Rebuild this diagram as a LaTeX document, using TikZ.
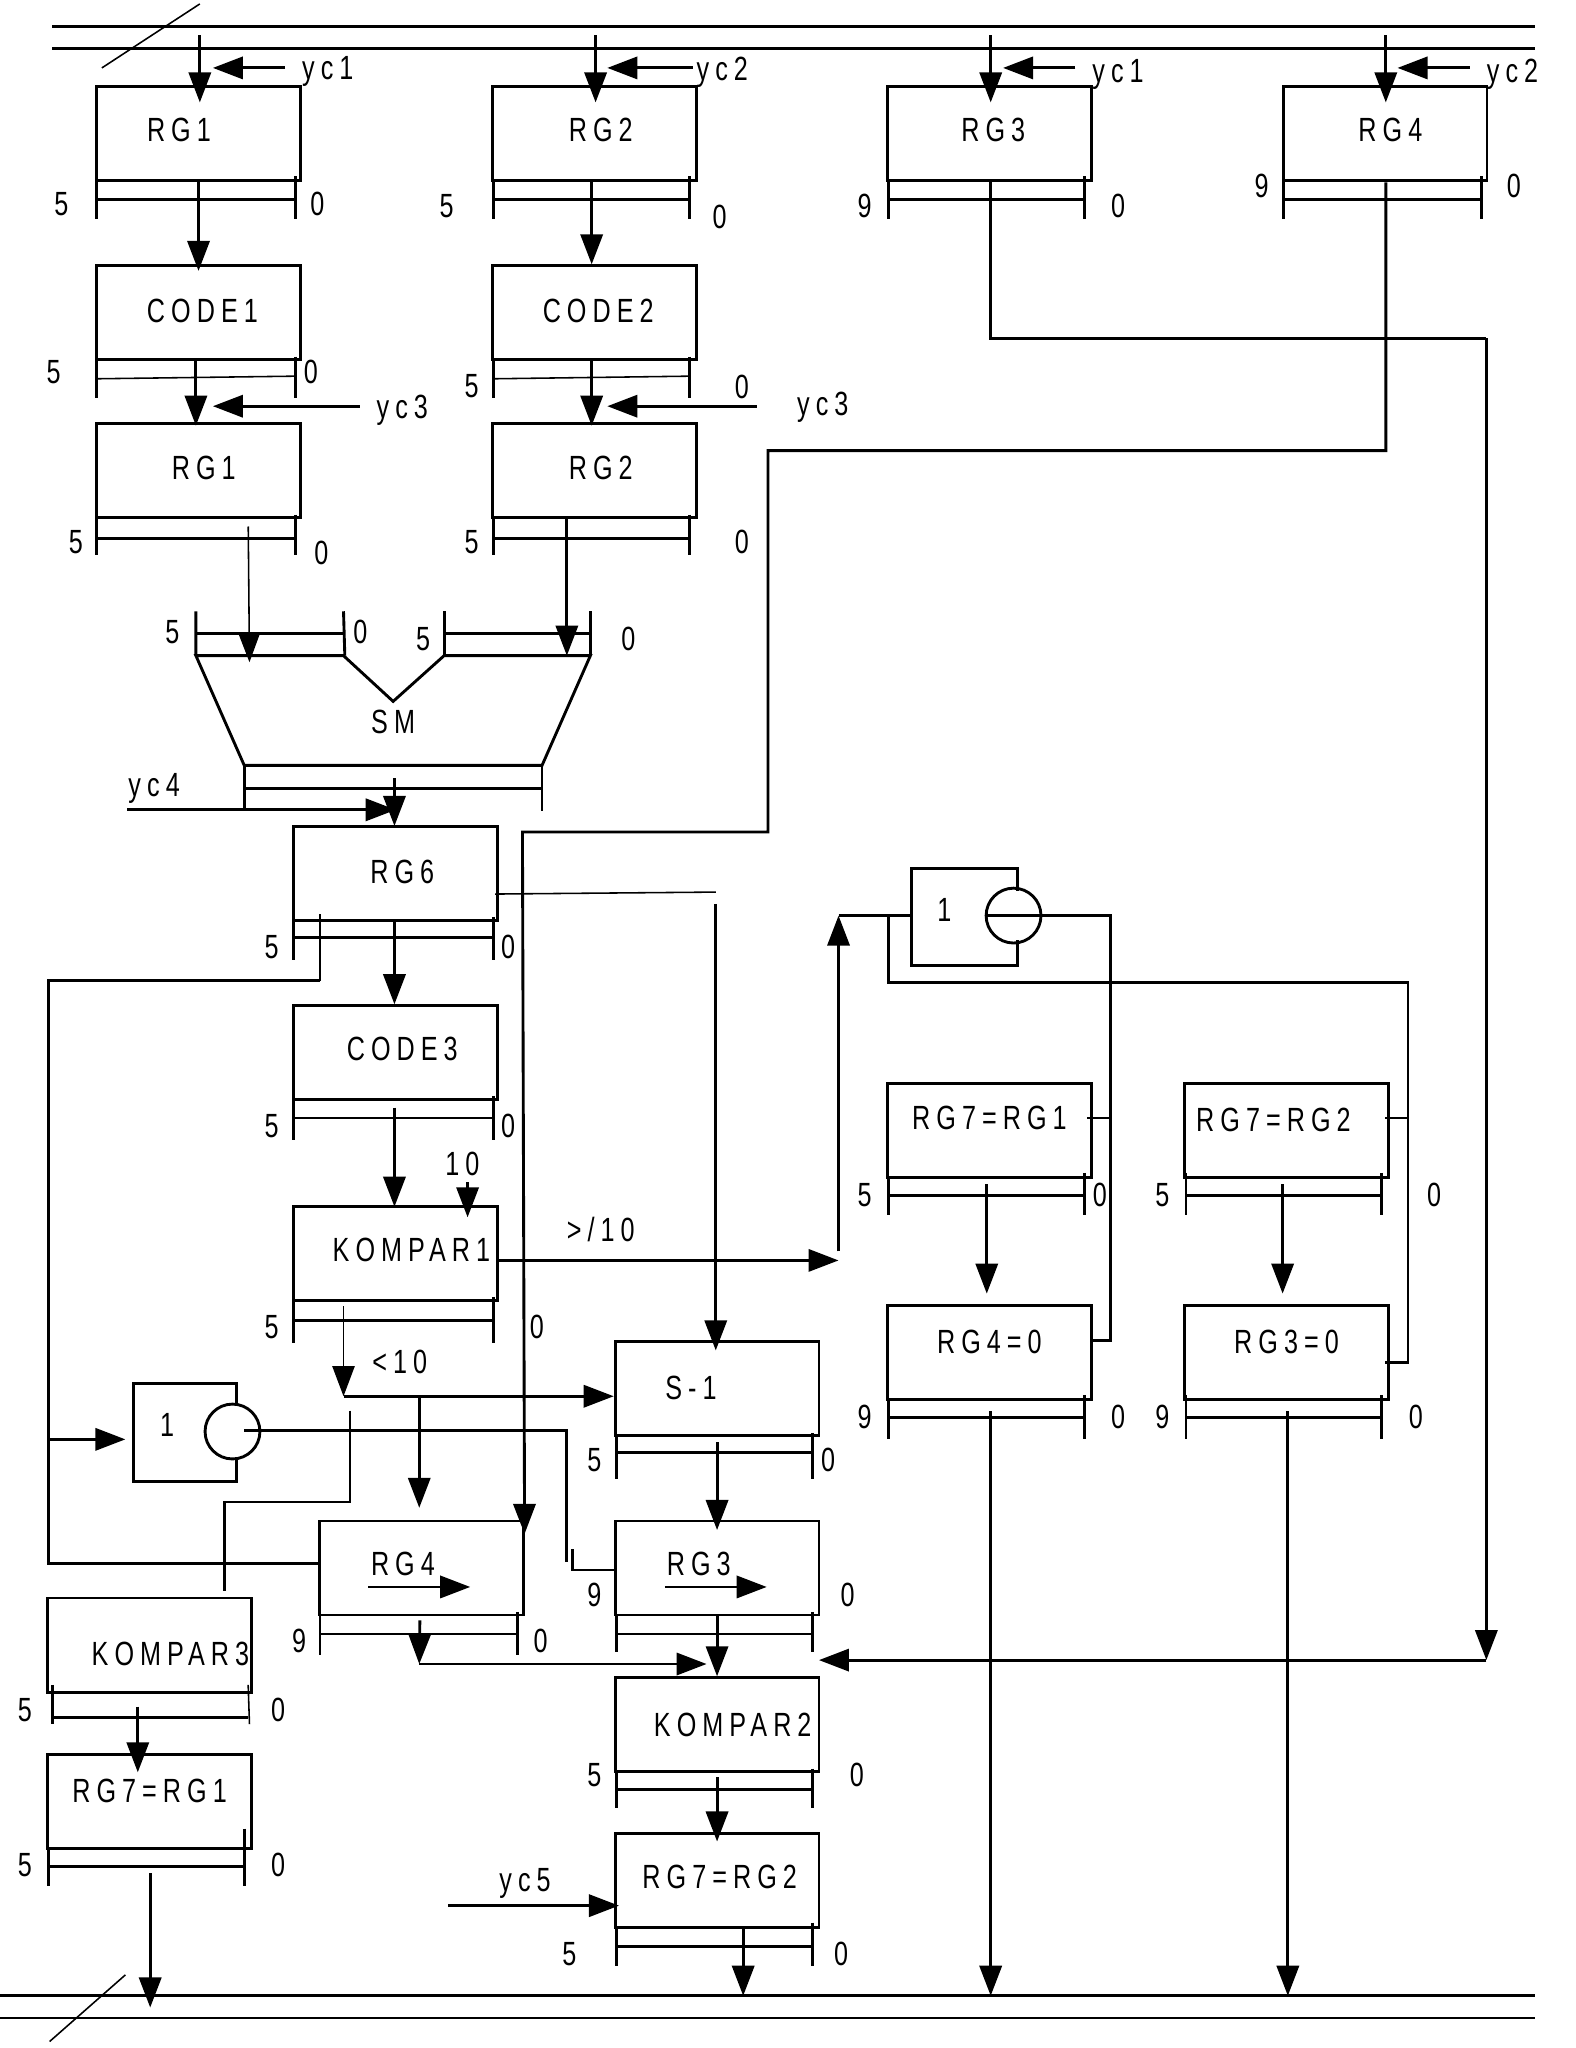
\documentclass[tikz,border=0pt]{standalone}
\usepackage{fontspec}
\setmainfont[FakeStretch=0.75,LetterSpace=18]{Liberation Sans}
\usetikzlibrary{arrows.meta}

\begin{document}
\begin{tikzpicture}[
  x=0.5pt,
  y=-0.5pt,
  font=\fontsize{12.85}{15}\selectfont,
  line width=1.1pt,
  box/.style={draw, inner sep=0pt, minimum width=78pt, minimum height=36pt, text height=9.2pt, text depth=3.5pt},
  tx/.style={execute at begin node={\kern #1pt}},
  ty/.style={text depth=#1pt},
  plain/.style={inner sep=0pt, xshift=0.5pt},
  gatecirc/.style={draw, circle, inner sep=0pt, minimum size=21pt},
  rail/.style={line width=1.1pt},
  wire/.style={line width=1.1pt},
  thinwire/.style={line width=0.6pt},
  arrow/.style={-{Triangle[length=11.5pt, width=8.5pt]}, line width=1.1pt},
  thinarrow/.style={-{Triangle[length=11.5pt, width=8.5pt]}, line width=0.6pt}
]
\useasboundingbox (0,0) rectangle (1206,1568);

\coordinate (busTL) at (40,20);
\coordinate (busTR) at (1175,20);
\coordinate (busTL2) at (40,37);
\coordinate (busTR2) at (1175,37);
\coordinate (busBL) at (0,1528);
\coordinate (busBR) at (1175,1528);
\coordinate (busBL2) at (0,1545);
\coordinate (busBR2) at (1175,1545);
\draw[wire] (busTL) -- (busTR);
\draw[wire] (busTL2) -- (busTR2);
\draw[wire] (busBL) -- (busBR);
\draw[wire] (busBL2) -- (busBR2);
\draw[thinwire] (78,52) -- (153,3);
\draw[thinwire] (38,1563) -- (96,1512);

\node[box, tx=-15] (rgA1) at (152,102.5) {RG1};
\node[box, tx=5] (rgA2) at (455,102.5) {RG2};
\node[box, tx=3] (rgA3) at (757.5,102.5) {RG3};
\node[box, tx=4] (rgA4) at (1060.5,102.5) {RG4};
\node[box, tx=3, ty=1.5] (code1) at (152,239.5) {CODE1};
\node[box, tx=3, ty=1.5] (code2) at (455,239.5) {CODE2};
\node[box, tx=4, ty=2] (rgB1) at (152,360) {RG1};
\node[box, tx=5, ty=2] (rgB2) at (455,360) {RG2};
\node[box, tx=5, ty=1.5] (rg6) at (303,668.5) {RG6};
\node[box, tx=5, ty=3] (code3) at (303,806) {CODE3};
\node[box, tx=12, ty=3] (kompar1) at (303,960) {KOMPAR1};
\node[box, ty=10] (rg7a) at (757.5,865.5) {RG7=RG1};
\node[box, tx=-10, ty=8.5] (rg7b) at (985,865.5) {RG7=RG2};
\node[box, ty=8.5] (rg4z) at (757.5,1035.5) {RG4=0};
\node[box, ty=8.5] (rg3z) at (985,1035.5) {RG3=0};
\node[box, tx=-20, ty=1] (sub1) at (549,1063) {S-1};
\node[box, tx=-14] (rgC3) at (549,1200.5) {RG3};
\node[box, tx=-14] (rgC4) at (322.5,1200.5) {RG4};
\node[box, tx=12, ty=0] (kompar2) at (549,1320.5) {KOMPAR2};
\node[box, tx=2, ty=3] (rg7c) at (549,1440) {RG7=RG2};
\node[box, tx=16, text height=15.7pt, ty=0] (kompar3) at (114.5,1259.5) {KOMPAR3};
\node[box, ty=8] (rg7d) at (114.5,1379) {RG7=RG1};

\draw[rail] (74,138) -- (74,168) (74,153) -- (226,153) (226,135) -- (226,168);
\draw[rail] (378,138) -- (378,168) (378,153) -- (528,153) (528,135) -- (528,168);
\draw[rail] (680,138) -- (680,168) (680,153) -- (830,153) (830,135) -- (830,168);
\draw[rail] (983,138) -- (983,168) (983,153) -- (1134,153) (1134,135) -- (1134,168);
\draw[rail] (74,276) -- (74,305) (226,273) -- (226,305);
\draw[thinwire] (74,290) -- (226,288);
\draw[rail] (378,276) -- (378,305) (528,273) -- (528,305);
\draw[thinwire] (378,290) -- (528,288);
\draw[rail] (74,397) -- (74,425) (74,412) -- (226,412) (226,394) -- (226,425);
\draw[rail] (378,397) -- (378,425) (378,412) -- (528,412) (528,394) -- (528,425);
\draw[rail] (225,705) -- (225,735) (225,718) -- (378,718) (378,702) -- (378,735);
\draw[rail] (225,842) -- (225,873) (225,856) -- (378,856) (378,839) -- (378,873);
\draw[rail] (225,996) -- (225,1028) (225,1011) -- (378,1011) (378,993) -- (378,1028);
\draw[rail] (680,901) -- (680,930) (680,915) -- (830,915) (830,898) -- (830,930);
\draw[rail] (908,898) -- (908,930) (908,915) -- (1058,915) (1058,898) -- (1058,930);
\draw[rail] (680,1071) -- (680,1102) (680,1085) -- (830,1085) (830,1068) -- (830,1102);
\draw[rail] (908,1068) -- (908,1102) (908,1085) -- (1058,1085) (1058,1068) -- (1058,1102);
\draw[rail] (472,1100) -- (472,1132) (472,1112) -- (622,1112) (622,1097) -- (622,1132);
\draw[rail] (472,1237) -- (472,1265) (472,1251) -- (622,1251) (622,1234) -- (622,1265);
\draw[thinwire] (245,1234) -- (245,1267);
\draw[rail] (245,1251) -- (396,1251) (396,1234) -- (396,1267);
\draw[rail] (472,1357) -- (472,1384) (472,1370) -- (622,1370) (622,1354) -- (622,1384);
\draw[rail] (472,1475) -- (472,1505) (472,1490) -- (622,1490) (622,1472) -- (622,1505);
\draw[rail] (40,1290) -- (40,1320) (40,1315) -- (190,1315);
\draw[thinwire] (190,1290) -- (191,1320);
\draw[rail] (37,1415) -- (37,1444) (37,1429) -- (187,1429) (187,1400) -- (187,1444);

\node[plain] (sm) at (300,553) {SM};
\coordinate (smout) at (302,596);
\coordinate (smin1) at (191,507);
\coordinate (smin2) at (434,502);
\draw[wire] (150,502) -- (263,502) -- (301,537) -- (340,502) -- (452,502) -- (415,586) -- (187,586) -- cycle;
\draw[rail] (150,468) -- (150,502) (150,485) -- (263,485) (263,468) -- (264,502);
\draw[rail] (340,468) -- (340,502) (340,485) -- (452,485) (452,468) -- (452,502);
\draw[rail] (187,586) -- (187,621) (187,604) -- (415,604) (415,586) -- (415,621);

\node[plain] (or1) at (722,697) {1};
\node[gatecirc] (or1c) at (776,701) {};
\coordinate (or1in) at (698,701);
\draw[wire] (779,682) -- (779,665) -- (698,665) -- (698,739) -- (779,739) -- (779,720);
\node[plain] (or2) at (127,1091) {1};
\node[gatecirc] (or2c) at (178,1096) {};
\draw[wire] (181,1075) -- (181,1059) -- (102,1059) -- (102,1134) -- (181,1134) -- (181,1117);

\node[plain] (lab5a) at (46,156) {5};
\node[plain] (lab0a) at (242,156) {0};
\node[plain] (lab5b) at (341,158) {5};
\node[plain] (lab0b) at (550,166) {0};
\node[plain] (lab9c) at (661,158) {9};
\node[plain] (lab0c) at (855,158) {0};
\node[plain] (lab9d) at (965,142) {9};
\node[plain] (lab0d) at (1158,142) {0};
\node[plain] (lab5e) at (40,285) {5};
\node[plain] (lab0e) at (237,285) {0};
\node[plain] (lab5f) at (360,296) {5};
\node[plain] (lab0f) at (567,296) {0};
\node[plain] (lab5g) at (57,415) {5};
\node[plain] (lab0g) at (245,423) {0};
\node[plain] (lab5h) at (360,415) {5};
\node[plain] (lab0h) at (567,415) {0};
\node[plain] (lab5i) at (131,484) {5};
\node[plain] (lab0i) at (275,484) {0};
\node[plain] (lab5j) at (323,489) {5};
\node[plain] (lab0j) at (480,489) {0};
\node[plain] (lab5k) at (207,725) {5};
\node[plain] (lab0k) at (388,725) {0};
\node[plain] (lab5l) at (207,862) {5};
\node[plain] (lab0l) at (388,862) {0};
\node[plain] (lab5m) at (207,1016) {5};
\node[plain] (lab0m) at (410,1016) {0};
\node[plain] (lab5n) at (661,915) {5};
\node[plain] (lab0n) at (841,915) {0};
\node[plain] (lab5o) at (889,915) {5};
\node[plain] (lab0o) at (1097,915) {0};
\node[plain] (lab9p) at (661,1085) {9};
\node[plain] (lab0p) at (855,1085) {0};
\node[plain] (lab9q) at (889,1085) {9};
\node[plain] (lab0q) at (1083,1085) {0};
\node[plain] (lab5r) at (454,1118) {5};
\node[plain] (lab0r) at (633,1118) {0};
\node[plain] (lab9s) at (454,1221) {9};
\node[plain] (lab0s) at (648,1221) {0};
\node[plain] (lab9t) at (228,1256) {9};
\node[plain] (lab0t) at (413,1256) {0};
\node[plain] (lab5u) at (454,1359) {5};
\node[plain] (lab0u) at (655,1359) {0};
\node[plain] (lab5v) at (435,1496) {5};
\node[plain] (lab0v) at (643,1496) {0};
\node[plain] (lab5w) at (18,1309) {5};
\node[plain] (lab0w) at (212,1309) {0};
\node[plain] (lab5x) at (18,1428) {5};
\node[plain] (lab0x) at (212,1428) {0};

\node[plain] (yc1a) at (250,55) {yc1};
\node[plain] (yc2a) at (552,55) {yc2};
\node[plain] (yc1b) at (855,57) {yc1};
\node[plain] (yc2b) at (1157,57) {yc2};
\node[plain] (yc3a) at (307,314) {yc3};
\node[plain] (yc3b) at (629,312) {yc3};
\node[plain] (yc4) at (117,604) {yc4};
\node[plain] (yc5) at (401,1442) {yc5};
\node[plain] (ten) at (353,891) {10};
\node[plain] (more) at (459,941) {>/10};
\node[plain] (less) at (305,1043) {<10};

\coordinate (tap1) at (153,27);
\coordinate (tap2) at (456,27);
\coordinate (tap3) at (758.5,27);
\coordinate (tap4) at (1061,27);
\draw[arrow, shorten >=-6.5pt] (tap1) -- (tap1 |- rgA1.north);
\draw[arrow, shorten >=-6.5pt] (tap2) -- (tap2 |- rgA2.north);
\draw[arrow, shorten >=-6.5pt] (tap3) -- (tap3 |- rgA3.north);
\draw[arrow, shorten >=-6.5pt] (tap4) -- (tap4 |- rgA4.north);
\coordinate (ya1) at (163,52);
\coordinate (ya2) at (465,52);
\coordinate (ya3) at (768,52);
\coordinate (ya4) at (1070,52);
\coordinate (ya5) at (163,311);
\coordinate (ya6) at (465,311);
\draw[arrow, shorten <=6pt] (yc1a.west |- ya1) -- (ya1);
\draw[arrow, shorten <=1pt] (yc2a.west |- ya2) -- (ya2);
\draw[arrow, shorten <=6pt] (yc1b.west |- ya3) -- (ya3);
\draw[arrow, shorten <=6pt] (yc2b.west |- ya4) -- (ya4);
\draw[arrow, shorten <=6pt] (yc3a.west |- ya5) -- (ya5);
\draw[arrow, shorten <=15pt] (yc3b.west |- ya6) -- (ya6);

\draw[arrow, shorten >=-2.5pt] (rgA1.south) -- (code1.north);
\draw[arrow] ([xshift=-1pt]rgA2.south) -- ([xshift=-1pt]code2.north);
\draw[arrow, shorten >=-1.5pt] ([xshift=-1pt]code1.south) -- ([xshift=-1pt]rgB1.north);
\draw[arrow, shorten >=-1.5pt] ([xshift=-1pt]code2.south) -- ([xshift=-1pt]rgB2.north);
\draw[thinarrow, shorten <=3pt] ([xshift=19pt]rgB1.south) -- (smin1);
\draw[arrow] ([xshift=-10.5pt]rgB2.south) -- (smin2);
\draw[arrow, shorten >=-0.5pt] (smout) -- (smout |- rg6.north);
\draw[arrow] (yc4.south west |- smin1 |- 0,620) -- (rg6.north |- 0,620);
\draw[arrow] ([xshift=-0.5pt]rg6.south) -- ([xshift=-0.5pt]code3.north);
\draw[arrow, shorten <=2.5pt, shorten >=-0.5pt] ([xshift=-0.5pt]code3.south) -- ([xshift=-0.5pt]kompar1.north);
\coordinate (tenin) at (358,932);
\draw[arrow, shorten <=2pt] (ten.south -| tenin) -- (tenin);

\coordinate (kout) at (642,965);
\coordinate (kup) at (642,958);
\coordinate (orin) at (642,701);
\draw[arrow] ([yshift=-2.5pt]kompar1.east) -- (kout);
\draw[arrow] (kup) -- (orin);
\draw[wire] (orin) -- (or1in);
\draw[wire] (or1c.west) -- (or1c.east) -- (850,701) coordinate (orr) -- (850,1026) coordinate (rg4zin) -- (rg4z.east |- rg4zin);
\draw[wire] (850,856) coordinate (rg7ain) -- (832,856);
\draw[wire] (680,701) coordinate (orl) -- (680,752) -- (1078,752) -- (1078,1043) -- (1060,1043);
\draw[wire] (1078,856) coordinate (rg7bin) -- (1060,856);
\draw[arrow, shorten <=2pt, shorten >=4pt] ([xshift=-1pt]rg7a.south) -- ([xshift=-1pt]rg4z.north);
\draw[arrow, shorten <=2pt, shorten >=4pt] ([xshift=-1.5pt]rg7b.south) -- ([xshift=-1.5pt]rg3z.north);

\coordinate (bus5) at (758.5,1528);
\coordinate (bus6) at (986,1528);
\draw[arrow, shorten <=4pt] (rg4z.south -| bus5) -- (bus5);
\draw[arrow, shorten <=4pt] (rg3z.south -| bus6) -- (bus6);

\coordinate (r3a) at (1138,259);
\coordinate (r3b) at (1138,1271);
\coordinate (r3c) at (627,1271);
\draw[wire] (tap3 |- rgA3.south) |- (r3a);
\draw[arrow] (r3a) -- (r3b);
\draw[arrow] (r3b) -- (r3c);
\draw[arrow, shorten >=-5.5pt] (tap4 |- rgA4.south) |- (588,345) -- (588,637) -- (400,637) -- (rgC4.north east);

\coordinate (s1in) at (548,692);
\draw[thinwire] ([xshift=-1.5pt, yshift=-8pt]rg6.east) -- (548,683);
\draw[arrow, shorten >=-4pt] (s1in) -- (s1in |- sub1.north);
\draw[arrow, shorten <=2pt, shorten >=-4pt] (sub1.south) -- (rgC3.north);
\draw[arrow] (rgC3.south) -- (kompar2.north);
\draw[arrow, shorten <=1.5pt, shorten >=-3.5pt] (kompar2.south) -- (rg7c.north);
\coordinate (yc5in) at (343,1459);
\coordinate (bus7) at (569,1528);
\draw[arrow] (yc5in) -- ([xshift=2pt]rg7c.west |- yc5in);
\draw[arrow] (rg7c.south -| bus7) -- (bus7);

\coordinate (lessa) at (263,1000);
\coordinate (lessb) at (263,1069);
\coordinate (lessc) at (321,1069);
\draw[thinarrow] (lessa) -- (lessb);
\draw[arrow] (lessb) -- (sub1.west |- lessb);
\draw[arrow, shorten >=4.5pt] (lessc) -- (rgC4.north -| lessc);

\draw[arrow, shorten <=1.5pt] ([xshift=-0.5pt]rgC4.south) -- (321,1274) coordinate (rg4out);
\draw[arrow] (rg4out) -- (541,1274);
\draw[wire] (187,1095) -- (434,1095) -- (434,1196);
\draw[wire] (438,1186) -- (438,1202) -- (rgC3.west |- 0,1202);

\draw[wire] (268,1080) -- (268,1150) -- (172,1150) -- (172,1218);
\draw[thinwire] (245,700) -- (245,751);
\draw[wire] (245,751) -- (37,751) -- (37,1197) -- (rgC4.west |- 0,1197);
\draw[arrow] (37,1102) -- (96,1102);
\draw[arrow] (282,1215) -- (360,1215);
\draw[arrow] (509,1215) -- (587,1215);

\coordinate (bus8) at (115,1537);
\draw[arrow, shorten <=5pt, shorten >=-7.5pt] ([xshift=-4.5pt]kompar3.south) -- ([xshift=-4.5pt]rg7d.north);
\draw[arrow, shorten <=9pt] (rg7d.south -| bus8) -- (bus8);
\end{tikzpicture}
\end{document}
